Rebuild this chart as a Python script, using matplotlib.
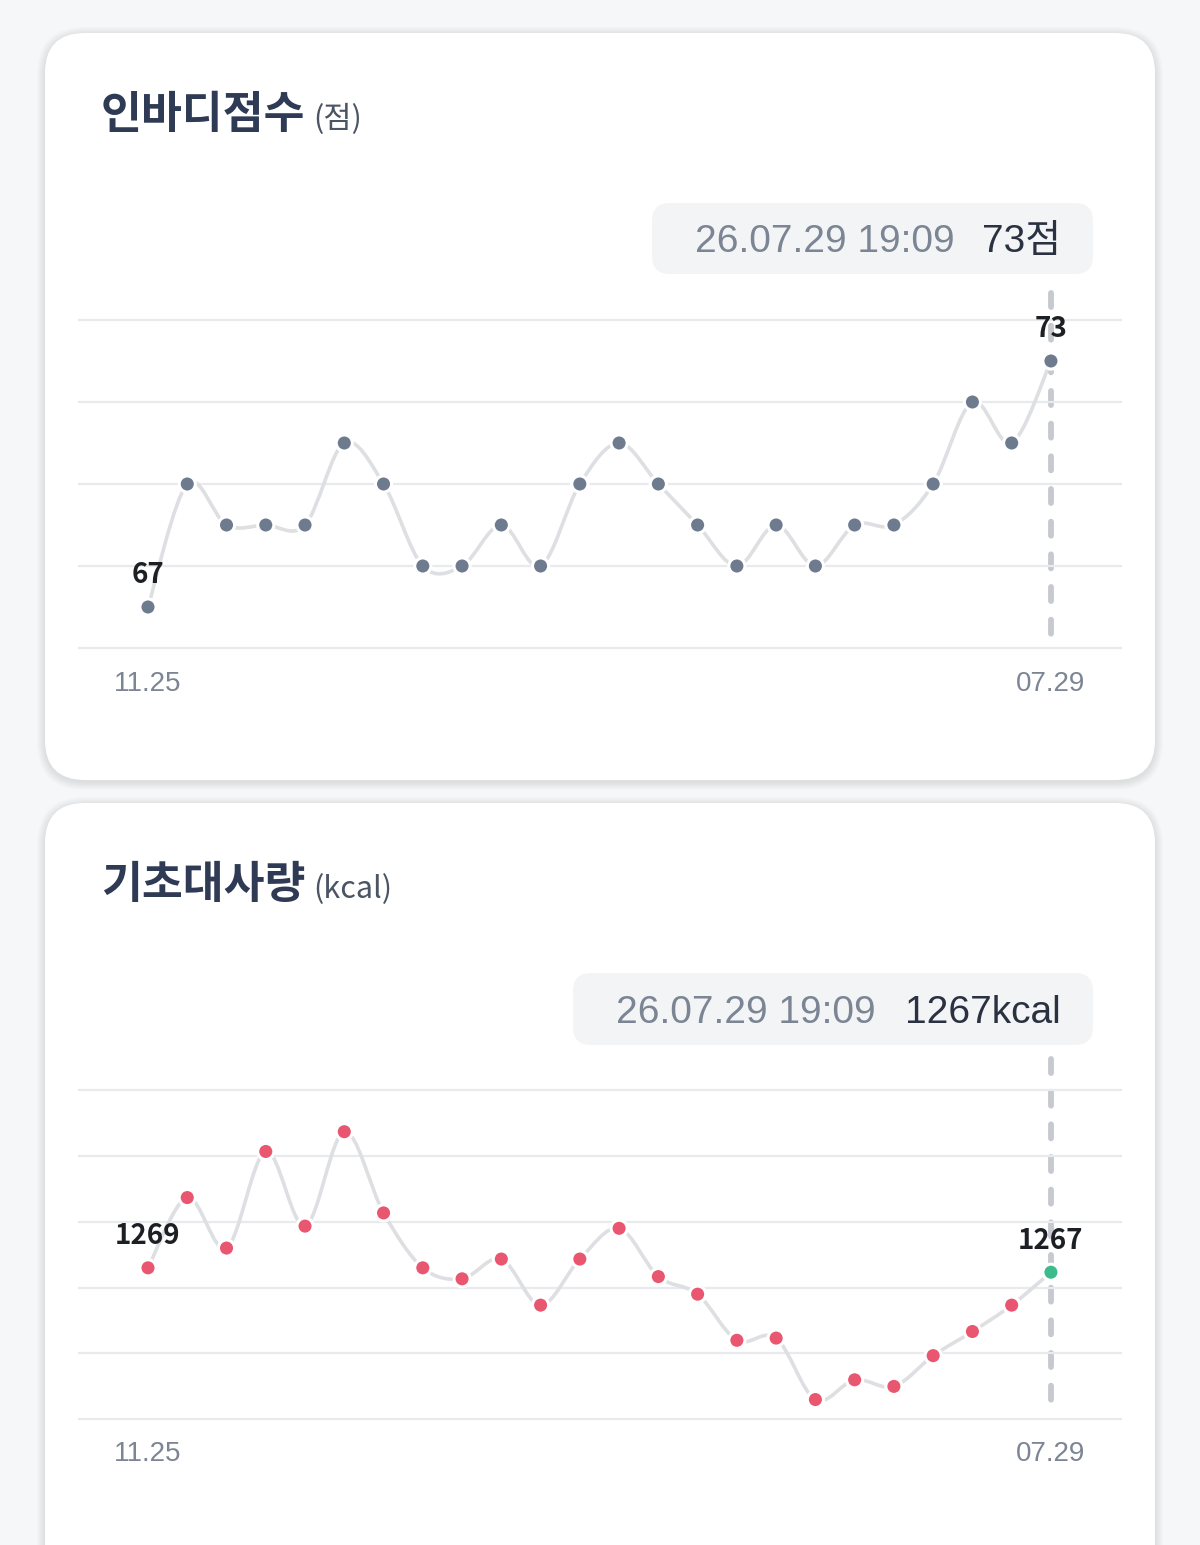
import matplotlib
matplotlib.use("Agg")
import matplotlib.pyplot as plt
from matplotlib.patches import FancyBboxPatch, PathPatch
from matplotlib.path import Path

# ---- data ----
date_first = "11.25"
date_last = "07.29"
stamp = "26.07.29 19:09"

score_title = "인바디점수"
score_unit = "점"
score = [67, 70, 69, 69, 69, 71, 70, 68, 68, 69, 68, 70,
         71, 70, 69, 68, 69, 68, 69, 69, 70, 72, 71, 73]
score_ticks = [66, 68, 70, 72, 74]

bmr_title = "기초대사량"
bmr_unit = "kcal"
bmr = [1269, 1301, 1278, 1322, 1288, 1331, 1294, 1269, 1264, 1273, 1252, 1273,
       1287, 1265, 1257, 1236, 1237, 1209, 1218, 1215, 1229, 1240, 1252, 1267]
bmr_ticks = [1200, 1230, 1260, 1290, 1320, 1350]

W, H = 1200, 1545
BG = "#F6F7F9"
KR = ["Noto Sans CJK KR", "DejaVu Sans"]
LAT = ["Liberation Sans", "Noto Sans CJK KR", "DejaVu Sans"]


def smooth_path(ys):
    # catmull-rom through the points, drawn as cubic bezier segments
    n = len(ys)
    pts = [(float(i), float(y)) for i, y in enumerate(ys)]
    verts = [pts[0]]
    codes = [Path.MOVETO]
    for i in range(n - 1):
        p0 = pts[max(i - 1, 0)]
        p1 = pts[i]
        p2 = pts[i + 1]
        p3 = pts[min(i + 2, n - 1)]
        c1 = (p1[0] + (p2[0] - p0[0]) / 6, p1[1] + (p2[1] - p0[1]) / 6)
        c2 = (p2[0] - (p3[0] - p1[0]) / 6, p2[1] - (p3[1] - p1[1]) / 6)
        verts += [c1, c2, p2]
        codes += [Path.CURVE4] * 3
    return Path(verts, codes)


def px_axes(fig, x0, x1, y_top, y_bot):
    return fig.add_axes([x0 / W, 1 - y_bot / H, (x1 - x0) / W, (y_bot - y_top) / H])


def card(bg, x, y, w, h):
    for k in range(8, 0, -1):
        bg.add_patch(FancyBboxPatch((x - k, y - k + 2), w + 2 * k, h + 2 * k,
                                    boxstyle=f"round,pad=0,rounding_size={40 + k}",
                                    fc="black", ec="none", alpha=0.010, zorder=1))
    bg.add_patch(FancyBboxPatch((x, y), w, h, boxstyle="round,pad=0,rounding_size=40",
                                fc="white", ec="none", zorder=2))


def header(bg, y_base, title, unit):
    bg.text(101, y_base, title, fontsize=32, fontweight="bold", color="#2F3A55",
            family=KR, va="baseline", ha="left", zorder=5)
    bg.text(313, y_base, f"({unit})", fontsize=22, color="#4B5563",
            family=KR, va="baseline", ha="left", zorder=5)


def tooltip(bg, x0, x1, y0, y1, date_right, value_text):
    bg.add_patch(FancyBboxPatch((x0, y0), x1 - x0, y1 - y0,
                                boxstyle="round,pad=0,rounding_size=18",
                                fc="#F3F4F6", ec="none", zorder=3))
    base = y1 - 22
    bg.text(date_right, base, stamp, fontsize=28, color="#7B8594", family=LAT,
            ha="right", va="baseline", zorder=5)
    bg.text(1061, base, value_text, fontsize=28, color="#2A3140", family=LAT,
            ha="right", va="baseline", zorder=5)


def chart(ax, values, ticks, ylim, colors, dash_span, tick_pad):
    n = len(values)
    ax.set_xlim(-1.783, 24.81)
    ax.set_ylim(*ylim)
    ax.set_facecolor("none")
    for s in ax.spines.values():
        s.set_visible(False)
    ax.set_yticks(ticks)
    ax.set_yticklabels([])
    ax.grid(axis="y", color="#E9EAED", lw=1.6, zorder=0)
    ax.set_xticks([0, n - 1], [date_first, date_last])
    ax.tick_params(axis="both", length=0)
    ax.tick_params(axis="x", pad=tick_pad, labelsize=20, labelcolor="#7C8594")
    for lab in ax.get_xticklabels():
        lab.set_family(LAT)

    # dashed marker line, drawn top-down so the pattern starts at the top
    ax.plot([n - 1, n - 1], dash_span, color="#C6C9CF", lw=4.2, dashes=(2.4, 3.2),
            dash_capstyle="round", clip_on=False, zorder=1)
    ax.add_patch(PathPatch(smooth_path(values), fc="none", ec="#DEDFE2", lw=2.6,
                           capstyle="round", zorder=2, clip_on=False))
    ax.scatter(range(n), values, s=135, c=colors, edgecolors="white", linewidths=2.2,
               zorder=4, clip_on=False)
    for i in (0, n - 1):
        ax.annotate(str(values[i]), (i, values[i]), xytext=(0, 17),
                    textcoords="offset points", ha="center", va="baseline",
                    fontsize=20, fontweight="bold", color="#1C1F24", family=KR,
                    zorder=6, annotation_clip=False)


fig = plt.figure(figsize=(W / 100, H / 100), dpi=100)
fig.patch.set_facecolor(BG)
bg = fig.add_axes([0, 0, 1, 1])
bg.set_xlim(0, W)
bg.set_ylim(H, 0)
bg.axis("off")
bg.set_facecolor(BG)

card(bg, 45, 33, 1110, 747)
card(bg, 45, 803, 1110, 800)

header(bg, 128, score_title, score_unit)
header(bg, 898, bmr_title, bmr_unit)

tooltip(bg, 652, 1093, 203, 274, 955, f"{score[-1]}{score_unit}")
tooltip(bg, 573, 1093, 973, 1045, 876, f"{bmr[-1]}{bmr_unit}")

ax1 = px_axes(fig, 78, 1122, 299.5, 668.5)
chart(ax1, score, score_ticks, (65.5, 74.5), ["#6E7B8F"] * len(score),
      (74.65, 66.2), 2)

ax2 = px_axes(fig, 78, 1122, 1079, 1430.3)
bmr_colors = ["#E9566F"] * (len(bmr) - 1) + ["#3DBB8C"]
chart(ax2, bmr, bmr_ticks, (1195, 1355), bmr_colors, (1364, 1204), 7.5)

fig.savefig("out.png", dpi=100, facecolor=BG)
